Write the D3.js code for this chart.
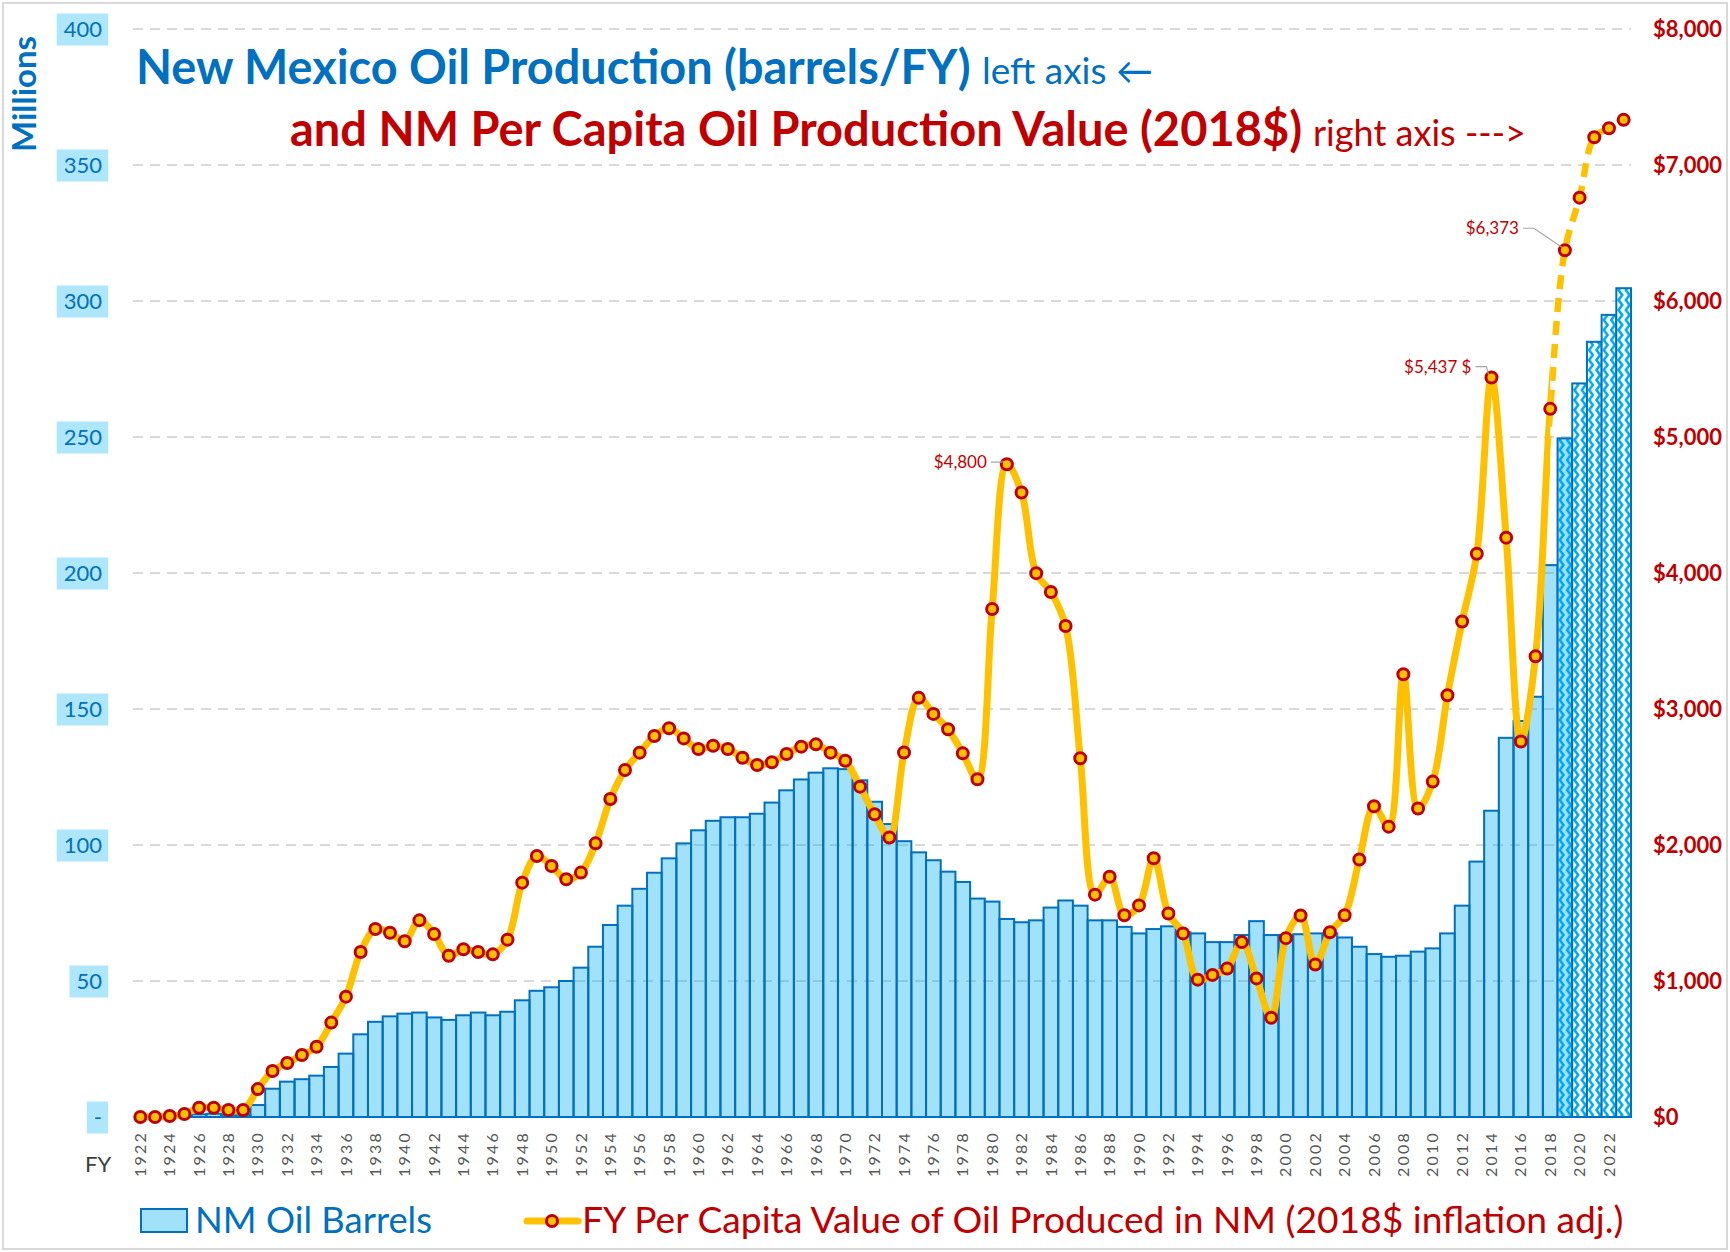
<!DOCTYPE html>
<html>
<head>
<meta charset="utf-8">
<script src="https://cdn.jsdelivr.net/npm/d3@7"></script>
<style>
  body { margin: 0; background: #fff; }
  svg { display: block; font-family: Lato, "Open Sans", sans-serif; }
</style>
</head>
<body>
<svg id="chart" width="1730" height="1252"></svg>
<script>
// fiscal years on the category axis
const years = d3.range(1922, 2024);

// NM oil barrels per FY, millions (left axis)
const barrels = [
  0, 0, 0.1, 0.3, 1.0, 1.2, 0.8, 0.8, 4.4, 10.4,
  13.0, 13.9, 15.2, 18.4, 23.3, 30.4, 35.0, 37.0, 38.0, 38.4,
  36.6, 35.7, 37.4, 38.4, 37.4, 38.7, 42.9, 46.4, 47.7, 50.0,
  54.9, 62.6, 70.6, 77.7, 83.9, 89.8, 95.1, 100.6, 105.4, 108.9,
  110.2, 110.2, 111.5, 115.6, 120.1, 124.1, 126.6, 128.2, 127.9, 123.8,
  115.9, 107.7, 101.4, 97.3, 94.4, 90.2, 86.4, 80.3, 79.2, 72.8,
  71.6, 72.3, 77.0, 79.6, 77.7, 72.3, 72.3, 69.9, 67.5, 69.1,
  70.1, 67.9, 67.5, 64.3, 64.3, 66.9, 72.0, 66.9, 66.9, 67.2,
  67.5, 67.5, 66.0, 62.6, 59.9, 58.9, 59.3, 60.8, 62.0, 67.5,
  77.7, 93.9, 112.6, 139.4, 145.6, 154.5, 202.9, 249.5, 269.7, 285.0,
  294.9, 304.7
];

// per capita value of oil produced, 2018$ (right axis)
const perCapita = [
  0, 0, 7, 22, 68, 68, 51, 51, 205, 338,
  397, 456, 517, 694, 885, 1213, 1382, 1355, 1292, 1446,
  1346, 1186, 1233, 1213, 1196, 1304, 1723, 1919, 1846, 1748,
  1797, 2012, 2338, 2551, 2679, 2801, 2858, 2784, 2706, 2730,
  2706, 2642, 2588, 2608, 2669, 2723, 2740, 2679, 2620, 2429,
  2226, 2055, 2680, 3082, 2964, 2851, 2674, 2484, 3735, 4800,
  4592, 3999, 3860, 3610, 2638, 1635, 1766, 1484, 1556, 1903,
  1496, 1350, 1010, 1045, 1092, 1286, 1019, 730, 1315, 1482,
  1121, 1359, 1483, 1893, 2285, 2135, 3255, 2268, 2466, 3101,
  3643, 4141, 5437, 4260, 2761, 3387, 5207, 6373, 6760, 7204,
  7270, 7332
];

const leftTicks = [0, 50, 100, 150, 200, 250, 300, 350, 400];
const rightTicks = [0, 1000, 2000, 3000, 4000, 5000, 6000, 7000, 8000];
const yearTicks = years.filter(y => y % 2 === 0);

const hatchedFrom = 2019;   // projected bars
const dashedFrom = 2018;    // projected part of the line

const callouts = [
  { year: 1981, label: '$4,800' },
  { year: 2014, label: '$5,437 $' },
  { year: 2019, label: '$6,373' }
];
// label offsets from the marker, px
const calloutOffset = { 1981: [-20, 4], 2014: [-20, -5], 2019: [-46, -16] };

const W = 1730, H = 1252;
const plot = { left: 133, right: 1631, top: 29, bottom: 1117 };
const BLUE = '#0070c0', RED = '#c00000', GOLD = '#ffc000';

const svg = d3.select('#chart');

const x = d3.scaleBand().domain(years).range([plot.left, plot.right]).padding(0);
const yL = d3.scaleLinear().domain([0, 400]).range([plot.bottom, plot.top]);
const yR = d3.scaleLinear().domain([0, 8000]).range([plot.bottom, plot.top]);
const cx = d => x(d) + x.bandwidth() / 2;

function fit(sel, width) {
  const size = parseFloat(sel.attr('font-size'));
  const w = sel.node().getComputedTextLength();
  sel.attr('font-size', (size * width / w).toFixed(2));
}

// outer frame
svg.append('rect')
  .attr('x', 3).attr('y', 3).attr('width', W - 6).attr('height', H - 6)
  .attr('fill', '#fff').attr('stroke', '#d9d9d9').attr('stroke-width', 2);

const defs = svg.append('defs');
function zigzag(id, bg) {
  const pw = x.bandwidth() / 2;
  const p = defs.append('pattern').attr('id', id)
    .attr('patternUnits', 'userSpaceOnUse')
    .attr('x', plot.left).attr('width', pw).attr('height', 10);
  p.append('rect').attr('width', pw).attr('height', 10).attr('fill', bg);
  p.append('path').attr('d', `M1.5,-1 L${pw - 1.5},5 L1.5,11`)
    .attr('fill', 'none').attr('stroke', '#00a8ec').attr('stroke-width', 2.6);
}
zigzag('zigLight', '#a1e1f9');
zigzag('zigWhite', '#ffffff');

// gridlines
svg.append('g').selectAll('line')
  .data(leftTicks.filter(d => d > 0))
  .join('line')
  .attr('x1', plot.left).attr('x2', plot.right)
  .attr('y1', d => yL(d)).attr('y2', d => yL(d))
  .attr('stroke', '#d9d9d9').attr('stroke-width', 2).attr('stroke-dasharray', '10,7');

svg.append('line')
  .attr('x1', plot.left).attr('x2', plot.right)
  .attr('y1', plot.bottom).attr('y2', plot.bottom)
  .attr('stroke', '#d9d9d9').attr('stroke-width', 1.5);

// bars
svg.append('g').selectAll('rect')
  .data(years)
  .join('rect')
  .attr('x', d => x(d)).attr('width', x.bandwidth())
  .attr('y', (d, i) => yL(barrels[i]))
  .attr('height', (d, i) => yL(0) - yL(barrels[i]))
  .attr('fill', d => d < hatchedFrom ? '#00aeef' : d === hatchedFrom ? 'url(#zigLight)' : 'url(#zigWhite)')
  .attr('fill-opacity', d => d < hatchedFrom ? 0.37 : 1)
  .attr('stroke', BLUE).attr('stroke-width', 2);

// per capita line, solid then dashed
const pts = years.map((d, i) => [cx(d), yR(perCapita[i])]);
const line = d3.line().curve(d3.curveCatmullRom.alpha(0.5));
const cutX = cx(dashedFrom);
defs.append('clipPath').attr('id', 'clipSolid')
  .append('rect').attr('x', 0).attr('y', 0).attr('width', cutX).attr('height', H);
defs.append('clipPath').attr('id', 'clipDash')
  .append('rect').attr('x', cutX).attr('y', 0).attr('width', W - cutX).attr('height', H);

svg.append('path')
  .attr('d', line(pts))
  .attr('clip-path', 'url(#clipSolid)')
  .attr('fill', 'none').attr('stroke', GOLD).attr('stroke-width', 7)
  .attr('stroke-linejoin', 'round').attr('stroke-linecap', 'round');

const iCut = years.indexOf(dashedFrom) - 1;
svg.append('path')
  .attr('d', line(pts.slice(iCut)))
  .attr('clip-path', 'url(#clipDash)')
  .attr('fill', 'none').attr('stroke', GOLD).attr('stroke-width', 6.5)
  .attr('stroke-dasharray', '14,9');

svg.append('g').selectAll('circle')
  .data(years)
  .join('circle')
  .attr('cx', d => cx(d))
  .attr('cy', (d, i) => yR(perCapita[i]))
  .attr('r', 5.5)
  .attr('fill', GOLD).attr('stroke', RED).attr('stroke-width', 3);

// callouts
callouts.forEach(c => {
  const i = years.indexOf(c.year);
  const mx = cx(c.year), my = yR(perCapita[i]);
  const [dx, dy] = calloutOffset[c.year];
  const tx = mx + dx, ty = my + dy;
  svg.append('polyline')
    .attr('points', [[tx + 4, ty - 6], [tx + 15, ty - 6], [mx - 3, my - 3]].join(' '))
    .attr('fill', 'none').attr('stroke', '#a6a6a6').attr('stroke-width', 1.2);
  svg.append('text')
    .attr('x', tx).attr('y', ty)
    .attr('text-anchor', 'end')
    .attr('font-size', 17).attr('fill', RED)
    .text(c.label);
});

// left axis
const gL = svg.append('g')
  .attr('transform', `translate(${plot.left - 25},0)`)
  .call(d3.axisLeft(yL).tickValues(leftTicks).tickSize(0).tickPadding(6)
    .tickFormat(d => d === 0 ? '-' : d))
  .attr('font-family', 'Lato, sans-serif').attr('font-size', 22);
gL.select('.domain').remove();
gL.selectAll('text').attr('fill', BLUE);
gL.selectAll('.tick').each(function () {
  const b = d3.select(this).select('text').node().getBBox();
  d3.select(this).insert('rect', 'text')
    .attr('x', b.x - 7).attr('y', -16)
    .attr('width', b.width + 13).attr('height', 32)
    .attr('fill', '#aee6fb');
});

// right axis
const gR = svg.append('g')
  .attr('transform', `translate(${plot.right + 22},0)`)
  .call(d3.axisRight(yR).tickValues(rightTicks).tickSize(0).tickPadding(0)
    .tickFormat(d3.format('$,')))
  .attr('font-family', 'Lato, sans-serif').attr('font-size', 22).attr('font-weight', 700);
gR.select('.domain').remove();
gR.selectAll('text').attr('fill', RED);

// category axis
const gX = svg.append('g')
  .attr('transform', `translate(0,${plot.bottom})`)
  .call(d3.axisBottom(x).tickValues(yearTicks).tickSize(0))
  .attr('font-family', 'Lato, sans-serif').attr('font-size', 16);
gX.select('.domain').remove();
gX.selectAll('text')
  .attr('transform', 'rotate(-90)')
  .attr('text-anchor', 'end')
  .attr('x', -14).attr('y', 0).attr('dy', '0.35em')
  .attr('fill', '#595959')
  .style('letter-spacing', '2.2px');

svg.append('text')
  .attr('x', 85).attr('y', 1172)
  .attr('font-size', 22).attr('fill', '#404040')
  .text('FY');

const mil = svg.append('text')
  .attr('transform', 'translate(36,94) rotate(-90)')
  .attr('text-anchor', 'middle')
  .attr('font-size', 26).attr('font-weight', 700).attr('fill', BLUE)
  .text('Millions');
fit(mil, 116);

// titles
const t1 = svg.append('text').attr('x', 136).attr('y', 84)
  .attr('font-size', 42).attr('font-weight', 700).attr('fill', BLUE)
  .text('New Mexico Oil Production (barrels/FY)');
fit(t1, 835);
const t1b = svg.append('text').attr('x', 982).attr('y', 84)
  .attr('font-size', 30).attr('fill', BLUE)
  .text('left axis \u2190');
fit(t1b, 171);

const t2 = svg.append('text').attr('x', 290).attr('y', 146)
  .attr('font-size', 42).attr('font-weight', 700).attr('fill', RED)
  .text('and NM Per Capita Oil Production Value (2018$)');
fit(t2, 1012);
const t2b = svg.append('text').attr('x', 1313).attr('y', 146)
  .attr('font-size', 30).attr('fill', RED)
  .text('right axis --->');
fit(t2b, 213);

// legend
const lg = svg.append('g');
lg.append('rect')
  .attr('x', 141).attr('y', 1209).attr('width', 46).attr('height', 23)
  .attr('fill', '#00aeef').attr('fill-opacity', 0.37)
  .attr('stroke', BLUE).attr('stroke-width', 2);
const l1 = lg.append('text').attr('x', 195).attr('y', 1233)
  .attr('font-size', 34).attr('fill', BLUE)
  .text('NM Oil Barrels');
fit(l1, 237);

lg.append('line')
  .attr('x1', 527).attr('x2', 578).attr('y1', 1221).attr('y2', 1221)
  .attr('stroke', GOLD).attr('stroke-width', 7).attr('stroke-linecap', 'round');
lg.append('circle')
  .attr('cx', 552).attr('cy', 1221).attr('r', 5.5)
  .attr('fill', GOLD).attr('stroke', RED).attr('stroke-width', 3);
const l2 = lg.append('text').attr('x', 582).attr('y', 1233)
  .attr('font-size', 34).attr('fill', RED)
  .text('FY Per Capita Value of Oil Produced in NM (2018$ inflation adj.)');
fit(l2, 1042);
</script>
</body>
</html>
